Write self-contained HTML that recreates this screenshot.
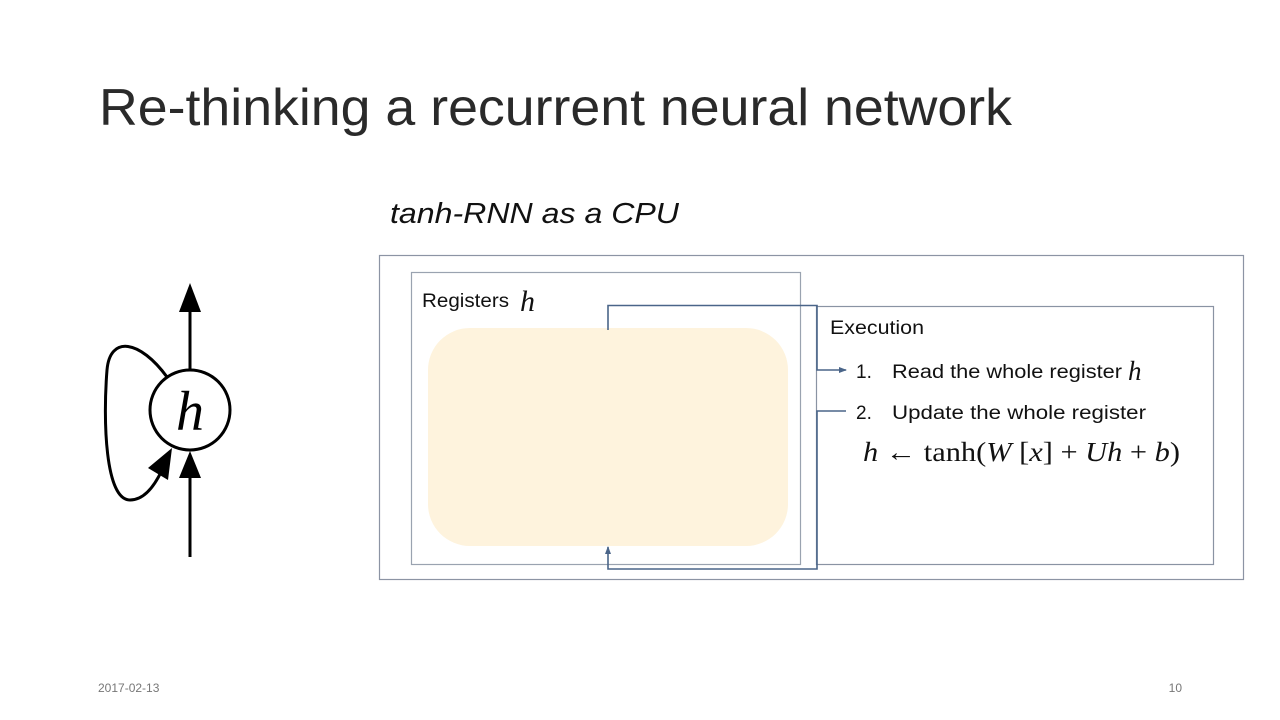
<!DOCTYPE html>
<html><head><meta charset="utf-8"><style>
html,body{margin:0;padding:0;background:#fff;}
svg{display:block;}
text{font-family:"Liberation Sans",sans-serif;}
.m{font-family:"Liberation Serif",serif;font-style:italic;}
.r{font-family:"Liberation Serif",serif;}
</style></head><body>
<svg width="1280" height="720" viewBox="0 0 1280 720" xmlns="http://www.w3.org/2000/svg">
<defs>
<marker id="ab" markerWidth="8" markerHeight="8" refX="7" refY="4" orient="auto" markerUnits="userSpaceOnUse"><path d="M0,1 L8,4 L0,7 z" fill="#4a6589"/></marker>
</defs>
<text x="99" y="125" font-size="52" fill="#2a2a2a" textLength="913" lengthAdjust="spacingAndGlyphs">Re-thinking a recurrent neural network</text>
<text x="390" y="223" font-size="29" font-style="italic" fill="#111" textLength="289" lengthAdjust="spacingAndGlyphs">tanh-RNN as a CPU</text>

<circle cx="190" cy="410" r="40" fill="#fff" stroke="#000" stroke-width="3"/>
<text x="190" y="430" class="m" font-size="56" text-anchor="middle" fill="#000">h</text>
<line x1="190" y1="370" x2="190" y2="310" stroke="#000" stroke-width="3"/>
<path d="M179,312 L190,283 L201,312 z" fill="#000"/>
<line x1="190" y1="557" x2="190" y2="475" stroke="#000" stroke-width="3"/>
<path d="M179,478 L190,451 L201,478 z" fill="#000"/>
<path d="M167,377 C140,340 110,335 107,370 C103,420 105,500 130,500 C145,500 155,485 162,470" fill="none" stroke="#000" stroke-width="3"/>
<path d="M148,468 L172,448 L168,480 z" fill="#000"/>

<rect x="379.5" y="255.5" width="864" height="324" fill="#fff" stroke="#8c94a4" stroke-width="1.2"/>
<rect x="411.5" y="272.5" width="389" height="292" fill="#fff" stroke="#9aa3b0" stroke-width="1.2"/>
<rect x="428" y="328" width="360" height="218" rx="42" fill="#fef3dd"/>
<text x="422" y="307" font-size="19" fill="#111" textLength="87" lengthAdjust="spacingAndGlyphs">Registers</text>
<text x="520" y="311" class="m" font-size="30" fill="#111">h</text>

<rect x="816.5" y="306.5" width="397" height="258" fill="#fff" stroke="#8a93a3" stroke-width="1.2"/>
<text x="830" y="334" font-size="19" fill="#111" textLength="94" lengthAdjust="spacingAndGlyphs">Execution</text>
<text x="856" y="378" font-size="19" fill="#111">1.</text>
<text x="892" y="378" font-size="19" fill="#111" textLength="230" lengthAdjust="spacingAndGlyphs">Read the whole register</text>
<text x="1128" y="380" class="m" font-size="27" fill="#111">h</text>
<text x="856" y="419" font-size="19" fill="#111">2.</text>
<text x="892" y="419" font-size="19" fill="#111" textLength="254" lengthAdjust="spacingAndGlyphs">Update the whole register</text>
<text x="863" y="461" class="r" font-size="27" fill="#111" textLength="317" lengthAdjust="spacingAndGlyphs"><tspan font-style="italic">h</tspan> ← tanh(<tspan font-style="italic">W</tspan> [<tspan font-style="italic">x</tspan>] + <tspan font-style="italic">Uh</tspan> + <tspan font-style="italic">b</tspan>)</text>

<polyline points="608,330 608,305.5 817,305.5 817,370 846,370" fill="none" stroke="#4a6589" stroke-width="1.6" marker-end="url(#ab)"/>
<polyline points="846,411 817,411 817,569 608,569 608,547" fill="none" stroke="#4a6589" stroke-width="1.6" marker-end="url(#ab)"/>

<text x="98" y="692" font-size="12" fill="#777">2017-02-13</text>
<text x="1182" y="692" font-size="12" fill="#777" text-anchor="end">10</text>
</svg>
</body></html>
